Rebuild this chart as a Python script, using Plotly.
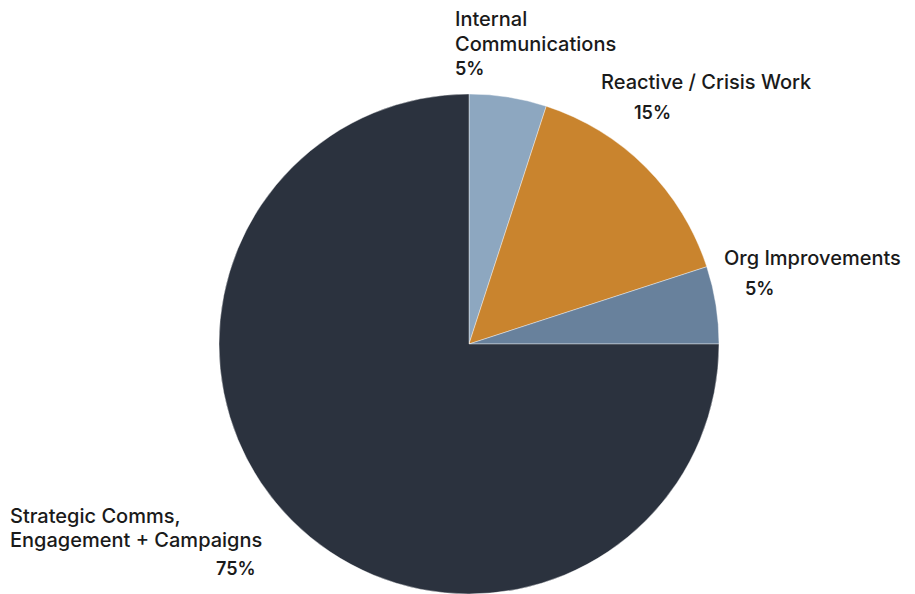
import plotly.graph_objects as go

# Share of team time by work area
categories = [
    "Internal Communications",
    "Reactive / Crisis Work",
    "Org Improvements",
    "Strategic Comms, Engagement + Campaigns",
]
shares = [5, 15, 5, 75]
colors = ["#8da7c0", "#c9842e", "#68819c", "#2b323e"]

# Label text: name lines and the percentage line
name_lines = [
    ["Internal", "Communications"],
    ["Reactive / Crisis Work"],
    ["Org Improvements"],
    ["Strategic Comms,", "Engagement + Campaigns"],
]

W, H = 915, 594
FONT = "Inter"


def px(x):
    return x / W


def py(y):
    return 1 - y / H


fig = go.Figure(
    go.Pie(
        labels=categories,
        values=shares,
        sort=False,
        direction="clockwise",
        rotation=0,
        marker=dict(colors=colors, line=dict(color="#ffffff", width=0.4)),
        textinfo="none",
        hovertemplate="%{label}<br>%{value}%<extra></extra>",
        domain=dict(x=[px(219), px(719)], y=[0, py(94)]),
        showlegend=False,
    )
)

# Placement of each label block (left x of name lines, first line centre y,
# percentage anchor x and its alignment, percentage centre y)
placement = [
    dict(nx=453, ny=19, step=25, pxx=453, pxa="left", pyy=69),
    dict(nx=599, ny=82, step=25, pxx=632, pxa="left", pyy=113),
    dict(nx=722, ny=258, step=25, pxx=743, pxa="left", pyy=288),
    dict(nx=8, ny=516, step=24, pxx=258, pxa="right", pyy=568),
]

annotations = []
for lines, share, pl in zip(name_lines, shares, placement):
    for i, line in enumerate(lines):
        annotations.append(dict(
            text=line, x=px(pl["nx"]), y=py(pl["ny"] + i * pl["step"]),
            xref="paper", yref="paper", xanchor="left", yanchor="middle",
            showarrow=False,
            font=dict(family=FONT, size=20, color="#1a1a1a", weight=500),
        ))
    annotations.append(dict(
        text=f"{share}%", x=px(pl["pxx"]), y=py(pl["pyy"]),
        xref="paper", yref="paper", xanchor=pl["pxa"], yanchor="middle",
        showarrow=False,
        font=dict(family=FONT, size=18, color="#1a1a1a", weight=600),
    ))

fig.update_layout(
    width=W,
    height=H,
    margin=dict(l=0, r=0, t=0, b=0),
    paper_bgcolor="#ffffff",
    plot_bgcolor="#ffffff",
    annotations=annotations,
)

fig.write_html("out.html")
